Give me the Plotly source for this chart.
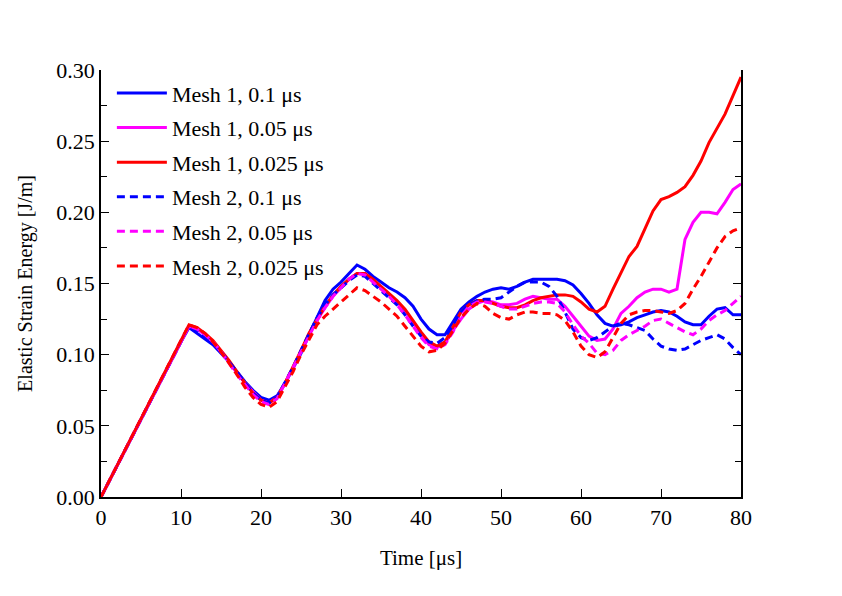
import plotly.graph_objects as go

time_us = [0, 1, 2, 3, 4, 5, 6, 7, 8, 9, 10, 11, 12, 13, 14, 15, 16, 17, 18, 19, 20,
           21, 22, 23, 24, 25, 26, 27, 28, 29, 30, 31, 32, 33, 34, 35, 36, 37, 38, 39, 40,
           41, 42, 43, 44, 45, 46, 47, 48, 49, 50, 51, 52, 53, 54, 55, 56, 57, 58, 59, 60,
           61, 62, 63, 64, 65, 66, 67, 68, 69, 70, 71, 72, 73, 74, 75, 76, 77, 78, 79, 80]

mesh1_01 = [0.000, 0.011, 0.022, 0.033, 0.044, 0.055, 0.066, 0.077, 0.088, 0.099, 0.109, 0.119,
            0.115, 0.111, 0.107, 0.101, 0.095, 0.088, 0.081, 0.075, 0.070,
            0.068, 0.071, 0.080, 0.090, 0.101, 0.114, 0.126, 0.138, 0.146, 0.151,
            0.157, 0.163, 0.160, 0.155, 0.151, 0.147, 0.144, 0.140, 0.134, 0.125,
            0.118, 0.114, 0.114, 0.123, 0.132, 0.137, 0.141, 0.144, 0.146, 0.147,
            0.146, 0.148, 0.151, 0.153, 0.153, 0.153, 0.153, 0.152, 0.149, 0.143,
            0.136, 0.128, 0.122, 0.120, 0.121, 0.123, 0.126, 0.128, 0.130, 0.131,
            0.130, 0.127, 0.123, 0.121, 0.121, 0.127, 0.132, 0.133, 0.128, 0.128]

mesh1_005 = [0.000, 0.011, 0.022, 0.033, 0.044, 0.055, 0.066, 0.077, 0.088, 0.099, 0.110, 0.120,
             0.118, 0.114, 0.109, 0.102, 0.095, 0.087, 0.080, 0.074, 0.068,
             0.066, 0.070, 0.080, 0.090, 0.102, 0.114, 0.124, 0.133, 0.141, 0.147,
             0.153, 0.157, 0.157, 0.152, 0.147, 0.142, 0.137, 0.131, 0.123, 0.114,
             0.107, 0.105, 0.108, 0.117, 0.125, 0.132, 0.136, 0.138, 0.137, 0.135,
             0.135, 0.136, 0.139, 0.141, 0.140, 0.139, 0.139, 0.134, 0.127, 0.120,
             0.113, 0.110, 0.111, 0.118, 0.129, 0.134, 0.140, 0.144, 0.146, 0.146,
             0.144, 0.146, 0.181, 0.193, 0.200, 0.200, 0.199, 0.207, 0.216, 0.220]

mesh1_0025 = [0.000, 0.011, 0.022, 0.033, 0.044, 0.055, 0.066, 0.077, 0.088, 0.099, 0.110, 0.121,
              0.119, 0.115, 0.110, 0.103, 0.096, 0.088, 0.080, 0.073, 0.068,
              0.066, 0.070, 0.080, 0.091, 0.103, 0.115, 0.125, 0.134, 0.142, 0.148,
              0.153, 0.157, 0.157, 0.153, 0.148, 0.143, 0.138, 0.132, 0.124, 0.116,
              0.109, 0.106, 0.109, 0.120, 0.130, 0.135, 0.138, 0.138, 0.136, 0.134,
              0.133, 0.133, 0.135, 0.138, 0.140, 0.141, 0.142, 0.142, 0.141, 0.137,
              0.132, 0.130, 0.134, 0.146, 0.158, 0.169, 0.176, 0.189, 0.201, 0.209,
              0.211, 0.214, 0.218, 0.226, 0.236, 0.249, 0.259, 0.269, 0.282, 0.295]

mesh2_01 = [0.000, 0.011, 0.022, 0.033, 0.044, 0.055, 0.066, 0.077, 0.088, 0.099, 0.110, 0.120,
            0.117, 0.113, 0.108, 0.102, 0.095, 0.088, 0.080, 0.073, 0.068,
            0.066, 0.070, 0.080, 0.091, 0.103, 0.115, 0.126, 0.135, 0.142, 0.147,
            0.152, 0.156, 0.155, 0.150, 0.145, 0.140, 0.135, 0.128, 0.120, 0.113,
            0.109, 0.108, 0.112, 0.121, 0.130, 0.135, 0.138, 0.139, 0.139, 0.140,
            0.144, 0.148, 0.151, 0.151, 0.151, 0.148, 0.141, 0.130, 0.118, 0.112,
            0.110, 0.112, 0.116, 0.120, 0.122, 0.121, 0.119, 0.117, 0.111, 0.106,
            0.104, 0.103, 0.104, 0.107, 0.110, 0.112, 0.114, 0.111, 0.105, 0.100]

mesh2_005 = [0.000, 0.011, 0.022, 0.033, 0.044, 0.055, 0.066, 0.077, 0.088, 0.099, 0.110, 0.120,
             0.118, 0.114, 0.109, 0.102, 0.094, 0.086, 0.079, 0.072, 0.067,
             0.065, 0.069, 0.080, 0.091, 0.103, 0.114, 0.124, 0.133, 0.141, 0.147,
             0.153, 0.157, 0.156, 0.151, 0.146, 0.141, 0.135, 0.128, 0.120, 0.112,
             0.106, 0.104, 0.107, 0.116, 0.127, 0.134, 0.137, 0.137, 0.136, 0.134,
             0.132, 0.132, 0.134, 0.136, 0.137, 0.137, 0.136, 0.130, 0.121, 0.113,
             0.108, 0.101, 0.100, 0.103, 0.110, 0.114, 0.117, 0.120, 0.124, 0.125,
             0.122, 0.119, 0.116, 0.114, 0.118, 0.124, 0.128, 0.131, 0.136, 0.141]

mesh2_0025 = [0.000, 0.011, 0.022, 0.033, 0.044, 0.055, 0.066, 0.077, 0.088, 0.099, 0.110, 0.121,
              0.119, 0.115, 0.109, 0.102, 0.094, 0.086, 0.077, 0.070, 0.065,
              0.063, 0.067, 0.077, 0.088, 0.100, 0.111, 0.121, 0.127, 0.132, 0.137,
              0.142, 0.147, 0.145, 0.141, 0.137, 0.132, 0.127, 0.120, 0.113, 0.106,
              0.102, 0.103, 0.108, 0.117, 0.126, 0.132, 0.136, 0.134, 0.129, 0.126,
              0.125, 0.128, 0.130, 0.130, 0.129, 0.129, 0.128, 0.124, 0.116, 0.106,
              0.100, 0.098, 0.102, 0.112, 0.122, 0.128, 0.130, 0.131, 0.131, 0.130,
              0.129, 0.131, 0.136, 0.146, 0.155, 0.165, 0.175, 0.183, 0.187, 0.189]

series_names = ["Mesh 1, 0.1 μs", "Mesh 1, 0.05 μs", "Mesh 1, 0.025 μs",
                "Mesh 2, 0.1 μs", "Mesh 2, 0.05 μs", "Mesh 2, 0.025 μs"]
series_values = [mesh1_01, mesh1_005, mesh1_0025, mesh2_01, mesh2_005, mesh2_0025]
series_colors = ["#0000ff", "#ff00ff", "#ff0000", "#0000ff", "#ff00ff", "#ff0000"]
series_dash = ["solid", "solid", "solid", "8px,5px", "8px,5px", "8px,5px"]

FONT = "Liberation Serif, Times New Roman, serif"

fig = go.Figure()
for i, (name, vals, col, dash) in enumerate(zip(series_names, series_values, series_colors, series_dash)):
    fig.add_trace(go.Scatter(
        x=time_us, y=vals, mode="lines", name=name,
        legendgroup=f"g{i}",
        line=dict(color=col, width=3, dash=dash),
    ))

fig.update_layout(
    width=842, height=596,
    margin=dict(l=93, r=109, t=62, b=107),
    paper_bgcolor="white", plot_bgcolor="white",
    font=dict(family=FONT, size=22, color="black"),
    showlegend=True,
    legend=dict(x=0.017, y=0.995, xanchor="left", yanchor="top",
                bgcolor="rgba(0,0,0,0)", font=dict(family=FONT, size=22),
                itemwidth=50, tracegroupgap=3),
    xaxis=dict(range=[0, 80], dtick=10, tick0=0, showgrid=False, zeroline=False,
               showline=True, linecolor="black", linewidth=1.6,
               ticks="inside", ticklen=8, tickwidth=1.4, tickcolor="black",
               mirror=False,
               tickfont=dict(family=FONT, size=22),
               title=dict(text="Time [μs]", font=dict(family=FONT, size=21), standoff=21)),
    xaxis2=dict(range=[0, 80], dtick=5, tick0=0, overlaying="x", side="top", anchor="y",
                showgrid=False, zeroline=False, showline=True, linecolor="black", linewidth=1.6,
                ticks="inside", ticklen=6, tickwidth=1.4, tickcolor="black",
                showticklabels=False),
    yaxis=dict(range=[0, 0.30], dtick=0.05, tick0=0, tickformat=".2f",
               showgrid=False, zeroline=False,
               showline=True, linecolor="black", linewidth=1.6,
               ticks="inside", ticklen=8, tickwidth=1.4, tickcolor="black",
               mirror="allticks",
               minor=dict(dtick=0.025, ticks="inside", ticklen=6, tickwidth=1.4, tickcolor="black", showgrid=False),
               tickfont=dict(family=FONT, size=22),
               title=dict(text="Elastic Strain Energy [J/m]", font=dict(family=FONT, size=20), standoff=18)),
)

fig.write_html("out.html")
